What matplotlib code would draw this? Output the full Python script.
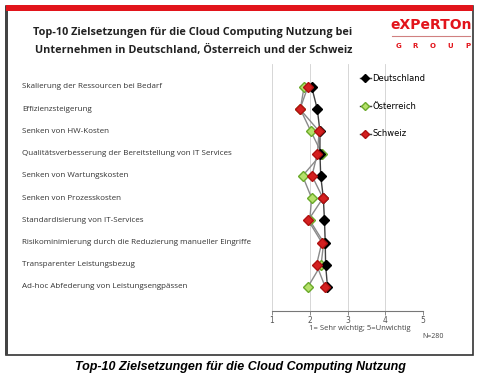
#!/usr/bin/env python3
"""Top-10 Zielsetzungen fuer die Cloud Computing Nutzung (D/A/CH)."""

import matplotlib
matplotlib.use('Agg')
import matplotlib.pyplot as plt
from matplotlib.patches import Rectangle
from matplotlib.lines import Line2D
import matplotlib.transforms as mtransforms

categories = [
    'Skalierung der Ressourcen bei Bedarf',
    'Effizienzsteigerung',
    'Senken von HW-Kosten',
    'Qualitätsverbesserung der Bereitstellung von IT Services',
    'Senken von Wartungskosten',
    'Senken von Prozesskosten',
    'Standardisierung von IT-Services',
    'Risikominimierung durch die Reduzierung manueller Eingriffe',
    'Transparenter Leistungsbezug',
    'Ad-hoc Abfederung von Leistungsengpässen',
]
deutschland = [2.05, 2.20, 2.27, 2.27, 2.29, 2.36, 2.39, 2.41, 2.42, 2.47]
oesterreich = [1.85, 1.75, 2.03, 2.32, 1.81, 2.05, 2.00, 2.37, 2.30, 1.95]
schweiz = [1.95, 1.74, 2.25, 2.20, 2.06, 2.35, 1.96, 2.32, 2.18, 2.41]
x_ticks = [1, 2, 3, 4, 5]

fig = plt.figure(figsize=(4.8, 3.77), dpi=100)
fig.patch.set_facecolor('white')

W, H = 480.0, 377.0
def fx(px):
    return px / W
def fy(py):
    return 1 - py / H

# frame and red header bar
fig.patches.append(Rectangle((fx(6), fy(355)), fx(467), (355 - 6) / H, transform=fig.transFigure,
                             facecolor='none', edgecolor='#333333', linewidth=1.2))
fig.patches.append(Rectangle((fx(5), fy(355)), fx(3), (355 - 6) / H, transform=fig.transFigure,
                             facecolor='#444444', edgecolor='none'))
fig.patches.append(Rectangle((fx(6), fy(11)), fx(467), 6 / H, transform=fig.transFigure,
                             facecolor='#e2141b', edgecolor='none'))

# title
fig.text(fx(193), fy(33), 'Top-10 Zielsetzungen für die Cloud Computing Nutzung bei',
         ha='center', va='center', fontsize=7.8, fontweight='bold', family='Open Sans', color='#222222')
fig.text(fx(194), fy(50), 'Unternehmen in Deutschland, Österreich und der Schweiz',
         ha='center', va='center', fontsize=7.8, fontweight='bold', family='Open Sans', color='#222222')

# logo
fig.text(fx(431), fy(25), 'eXPeRTOn', ha='center', va='center', fontsize=10,
         fontweight='bold', family='DejaVu Sans', color='#e2141b')
fig.lines.append(Line2D([fx(392), fx(470)], [fy(36), fy(36)], transform=fig.transFigure,
                        color='#d08080', linewidth=0.8))
for i, ch in enumerate('GROUP'):
    fig.text(fx(398 + i * 17.5), fy(46), ch, ha='center', va='center', fontsize=5,
             fontweight='bold', color='#e2141b')

# chart
ax = fig.add_axes([fx(272), fy(311), fx(423) - fx(272), fy(64) - fy(311)])
ypos = list(range(len(categories)))

ax.plot(deutschland, ypos, color='#404040', linewidth=1.0, marker='D', markersize=5.5,
        markerfacecolor='black', markeredgecolor='black', label='Deutschland', zorder=3)
ax.plot(oesterreich, ypos, color='#8a8a8a', linewidth=1.0, marker='D', markersize=5,
        markerfacecolor='#b5e06a', markeredgecolor='#6aaa2a', label='Österreich', zorder=2)
ax.plot(schweiz, ypos, color='#8a8a8a', linewidth=1.0, marker='D', markersize=5,
        markerfacecolor='#d42020', markeredgecolor='#b01010', label='Schweiz', zorder=4)

ax.set_xlim(1, 5)
ax.set_ylim(10.08, -1.03)
ax.set_xticks(x_ticks)
ax.set_xticklabels([str(t) for t in x_ticks], fontsize=5.5, color='#555555')
ax.set_yticks([])
ax.grid(True, axis='x', color='#d0d0d0', linewidth=0.6)
for s in ['top', 'right', 'left']:
    ax.spines[s].set_visible(False)
ax.spines['bottom'].set_color('#777777')
ax.spines['bottom'].set_linewidth(0.8)
ax.tick_params(axis='x', length=3, width=0.6, color='#777777', pad=0.5)

# category labels on the left
trans = mtransforms.blended_transform_factory(fig.transFigure, ax.transData)
for y, cat in zip(ypos, categories):
    fig.text(fx(22), y, cat, transform=trans, ha='left', va='center', fontsize=5.8,
             family='Open Sans', color='#333333')

leg = ax.legend(loc='upper left', bbox_to_anchor=((360 - 272) / 151.0, 1 - (74 - 64) / 247.0),
                frameon=False, fontsize=6, labelspacing=2.25, handlelength=1.3, handletextpad=0.2,
                borderaxespad=0, borderpad=0, markerscale=0.8)
for line in leg.get_lines():
    line.set_color('#404040')

fig.text(fx(360), fy(329), '1= Sehr wichtig; 5=Unwichtig', ha='center', va='center',
         fontsize=5.5, family='Open Sans', color='#444444')
fig.text(fx(433), fy(337), 'N=280', ha='center', va='center', fontsize=5,
         family='Open Sans', color='#444444')

# caption below the frame
fig.text(fx(240), fy(367), 'Top-10 Zielsetzungen für die Cloud Computing Nutzung',
         ha='center', va='center', fontsize=9, fontweight='bold', fontstyle='italic',
         family='Liberation Sans', color='black')

fig.savefig('out.png', dpi=100)
